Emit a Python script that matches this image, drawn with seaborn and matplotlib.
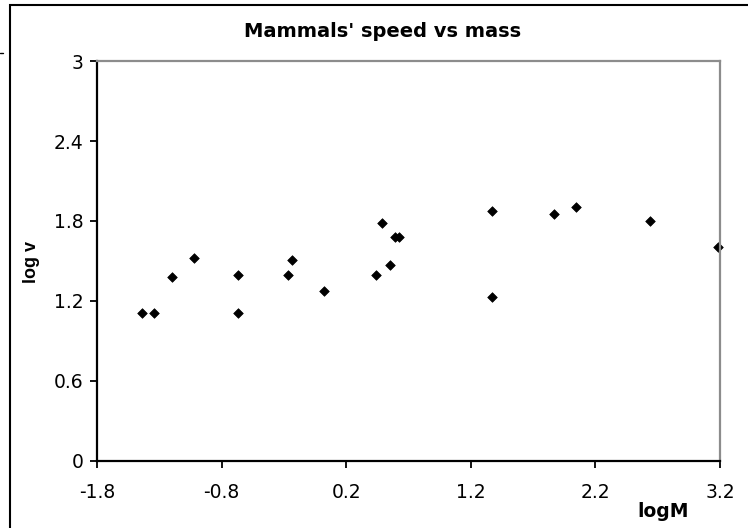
import numpy as np
import pandas as pd
import seaborn as sns
import matplotlib.pyplot as plt
from matplotlib.patches import Rectangle
from matplotlib.lines import Line2D

# ---------- data ----------
log_mass = [-1.44, -1.345, -1.20, -1.024, -0.671, -0.671, -0.27, -0.237, 0.019,
            0.437, 0.487, 0.552, 0.592, 0.62, 1.37, 1.37, 1.868, 2.044, 2.638, 3.186]
log_speed = [1.112, 1.112, 1.382, 1.52, 1.397, 1.112, 1.397, 1.505, 1.277,
             1.397, 1.787, 1.472, 1.683, 1.683, 1.877, 1.232, 1.85, 1.907, 1.802, 1.607]
x_ticks = [-1.8, -0.8, 0.2, 1.2, 2.2, 3.2]
y_ticks = [0, 0.6, 1.2, 1.8, 2.4, 3]

df = pd.DataFrame({"logM": log_mass, "logv": log_speed})

sns.set_style("white")
# wide face to mimic the horizontally stretched Excel text
plt.rcParams["font.family"] = ["DejaVu Sans"]
plt.rcParams["text.color"] = "black"

fig = plt.figure(figsize=(7.48, 5.28), dpi=100)
ax = fig.add_axes([97 / 748, 67 / 528, 623 / 748, 400 / 528])

sns.scatterplot(data=df, x="logM", y="logv", marker="D", color="black",
                edgecolor="black", s=24, linewidth=0.5, ax=ax, clip_on=False)

ax.set_xlim(-1.8, 3.2)
ax.set_ylim(0, 3)
ax.set_xticks(x_ticks)
ax.set_xticklabels([f"{t:g}" for t in x_ticks])
ax.set_yticks(y_ticks)
ax.set_yticklabels([f"{t:g}" for t in y_ticks])
ax.set_xlabel("")
ax.set_ylabel("")

for side in ["left", "bottom"]:
    ax.spines[side].set_color("black")
    ax.spines[side].set_linewidth(1.6)
for side in ["top", "right"]:
    ax.spines[side].set_color("#8c8c8c")
    ax.spines[side].set_linewidth(1.6)

ax.tick_params(axis="both", direction="out", length=5, width=1.3, color="black",
               labelcolor="black", labelsize=13.5, bottom=True, left=True)
ax.tick_params(axis="y", pad=4.5)
ax.tick_params(axis="x", pad=10.5)

fig.text(383 / 748, 1 - 37 / 528, "Mammals' speed vs mass", ha="center", va="baseline",
         fontsize=14, fontweight="bold", color="black")
fig.text(31 / 748, 1 - 262 / 528, "log v", rotation=90, ha="center", va="center",
         fontsize=13, fontweight="bold", color="black",
         family=["Liberation Sans", "DejaVu Sans"])
fig.text(663 / 748, 1 - 517 / 528, "logM", ha="center", va="baseline",
         fontsize=13.5, fontweight="bold", color="black")

# outer chart frame
fig.patches.append(Rectangle((10 / 748, -0.05), 1.0, 1 - 5 / 528 + 0.05,
                             transform=fig.transFigure, fill=False,
                             edgecolor="black", linewidth=1.5))
fig.lines.append(Line2D([0, 3 / 748], [1 - 53 / 528, 1 - 53 / 528],
                        transform=fig.transFigure, color="black", linewidth=1))

fig.savefig("out.png", dpi=100)
